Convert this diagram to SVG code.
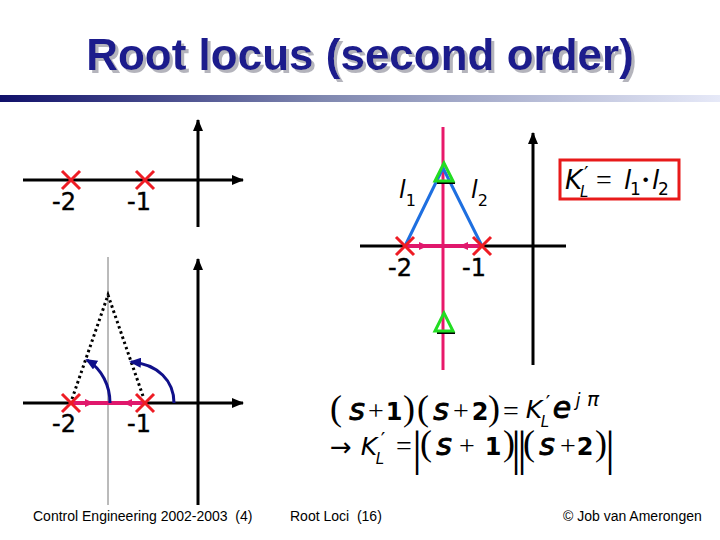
<svg xmlns="http://www.w3.org/2000/svg" width="720" height="540" viewBox="0 0 720 540">
<defs>
<linearGradient id="bar" x1="0" y1="0" x2="1" y2="0">
<stop offset="0" stop-color="#10106a"/>
<stop offset="0.45" stop-color="#8088b0"/>
<stop offset="1" stop-color="#e6e9f8"/>
</linearGradient>
<filter id="shadow" x="-5%" y="-20%" width="110%" height="140%">
<feOffset in="SourceAlpha" dx="2.5" dy="2.5" result="off"/>
<feFlood flood-color="#b4b4bc"/>
<feComposite in2="off" operator="in" result="sh"/>
<feMerge><feMergeNode in="sh"/><feMergeNode in="SourceGraphic"/></feMerge>
</filter>
<marker id="ak" viewBox="0 0 12 10" refX="11" refY="5" markerWidth="12" markerHeight="10" markerUnits="userSpaceOnUse" orient="auto">
<path d="M0,0 L12,5 L0,10 z" fill="#000"/>
</marker>
<marker id="ap" viewBox="0 0 9 8" refX="8" refY="4" markerWidth="9" markerHeight="8" markerUnits="userSpaceOnUse" orient="auto">
<path d="M0,0 L9,4 L0,8 z" fill="#e0186c"/>
</marker>
<marker id="an" viewBox="0 0 12 10" refX="10" refY="5" markerWidth="12" markerHeight="10" markerUnits="userSpaceOnUse" orient="auto">
<path d="M0,0 L12,5 L0,10 z" fill="#10108a"/>
</marker>
</defs>
<style>
.axis{stroke:#000;stroke-width:3;fill:none}
.cross{stroke:#ee1c24;stroke-width:3;fill:none}
.pink{stroke:#e0186c;stroke-width:4;fill:none}
.pinkv{stroke:#e8186a;stroke-width:3;fill:none}
.navy{stroke:#10108a;stroke-width:3;fill:none}
.blue{stroke:#1e6fe0;stroke-width:3;fill:none}
.dot{stroke:#000;stroke-width:3;fill:none;stroke-dasharray:2.5 3}
.num{font-family:"DejaVu Sans",Verdana,sans-serif;font-size:24px;fill:#000;stroke:#000;stroke-width:0.4}
.lab{font-family:"DejaVu Sans",sans-serif;font-style:italic;fill:#000}
.foot{font-family:"Liberation Sans",Arial,sans-serif;font-size:14px;fill:#000;white-space:pre}
.eq{font-family:"Liberation Serif",serif;font-size:26px;fill:#000;text-anchor:middle}
.s{font-family:"DejaVu Sans",sans-serif;font-style:italic;font-size:30px;stroke:#000;stroke-width:0.9}
.d{font-family:"DejaVu Sans",sans-serif;font-weight:bold;font-size:24px}
.op{font-family:"Liberation Serif",serif;font-size:28px}
.par{font-family:"Liberation Serif",serif;font-size:36px}
.bar{font-family:"Liberation Serif",serif;font-size:48px}
.it{font-family:"DejaVu Sans",sans-serif;font-style:italic}
.pr{font-family:"DejaVu Sans",sans-serif;font-style:normal}
</style>
<rect width="720" height="540" fill="#fff"/>

<g id="title" filter="url(#shadow)">
<text x="360" y="70" text-anchor="middle" font-family="Liberation Sans,Arial,sans-serif" font-weight="bold" font-size="44" fill="#1a1a8c">Root locus (second order)</text>
</g>
<rect id="titlebar" x="0" y="95" width="720" height="7" fill="url(#bar)"/>

<g id="diagram-top-left">
<line class="axis" x1="23" y1="180" x2="243" y2="180" marker-end="url(#ak)"/>
<line class="axis" x1="198" y1="227" x2="198" y2="120" marker-end="url(#ak)"/>
<path class="cross" d="M62,171 L80,189 M80,171 L62,189"/>
<path class="cross" d="M136,171 L154,189 M154,171 L136,189"/>
<text class="num" x="64" y="210" text-anchor="middle">-2</text>
<text class="num" x="139" y="210" text-anchor="middle">-1</text>
</g>

<g id="diagram-bottom-left">
<line x1="108" y1="257" x2="108" y2="505" stroke="#777" stroke-width="1"/>
<line class="axis" x1="23" y1="403" x2="243" y2="403" marker-end="url(#ak)"/>
<line class="axis" x1="198" y1="505" x2="198" y2="259" marker-end="url(#ak)"/>
<path class="dot" d="M72,399 L108,295 L144,399"/>
<line class="pink" x1="71" y1="403" x2="145" y2="403"/>
<path class="pink" d="M80,403 L93,403" marker-end="url(#ap)"/>
<path class="pink" d="M136,403 L124,403" marker-end="url(#ap)"/>
<path class="navy" d="M110,403 C110,386 102,369 87,360" marker-end="url(#an)"/>
<path class="navy" d="M174,403 C174,381 158,364 131,362" marker-end="url(#an)"/>
<path class="cross" d="M62,394 L80,412 M80,394 L62,412"/>
<path class="cross" d="M136,394 L154,412 M154,394 L136,412"/>
<text class="num" x="64" y="432" text-anchor="middle">-2</text>
<text class="num" x="139" y="432" text-anchor="middle">-1</text>
</g>

<g id="diagram-right">
<line class="axis" x1="360" y1="246" x2="566" y2="246"/>
<line class="axis" x1="533" y1="365" x2="533" y2="133" marker-end="url(#ak)"/>
<line class="pinkv" x1="443" y1="127" x2="443" y2="370"/>
<line class="pink" x1="405" y1="246" x2="482" y2="246"/>
<path class="pink" d="M414,246 L427,246" marker-end="url(#ap)"/>
<path class="pink" d="M473,246 L460,246" marker-end="url(#ap)"/>
<path class="blue" d="M405,246 L443,168 L482,246"/>
<path class="cross" d="M396,237 L414,255 M414,237 L396,255"/>
<path class="cross" d="M473,237 L491,255 M491,237 L473,255"/>
<g id="pole-upper">
<line x1="437" y1="183" x2="455" y2="183" stroke="#000" stroke-width="2"/>
<path d="M444,163 L435,181 L453,181 z" fill="none" stroke="#22dd22" stroke-width="3"/>
</g>
<g id="pole-lower">
<line x1="437" y1="333" x2="455" y2="333" stroke="#000" stroke-width="2"/>
<path d="M444,313 L435,331 L453,331 z" fill="none" stroke="#22dd22" stroke-width="3"/>
</g>
<text class="lab" x="399" y="198" font-size="24">l<tspan font-size="16" font-style="normal" dy="8">1</tspan></text>
<text class="lab" x="471" y="198" font-size="24">l<tspan font-size="16" font-style="normal" dy="8">2</tspan></text>
<text class="num" x="400" y="276" text-anchor="middle">-2</text>
<text class="num" x="474" y="276" text-anchor="middle">-1</text>
</g>

<g id="gain-box">
<rect x="560" y="160" width="119" height="39" fill="none" stroke="#e81a1a" stroke-width="3"/>
<text class="it" font-size="26" y="189"><tspan x="565">K</tspan><tspan class="pr" x="584" y="180" font-size="20">′</tspan><tspan x="580" y="197" font-size="15">L</tspan><tspan class="op" x="596" y="189" font-style="normal">=</tspan><tspan x="624">l</tspan><tspan x="630" y="195" font-size="17" font-style="normal">1</tspan><tspan class="op" x="641" y="189" font-style="normal" font-weight="bold">·</tspan><tspan x="652">l</tspan><tspan x="658" y="195" font-size="17" font-style="normal">2</tspan></text>
</g>

<g id="equation-1">
<text class="eq" y="420"><tspan class="par" x="336">(</tspan><tspan class="s" x="357">s</tspan><tspan class="op" x="376">+</tspan><tspan class="d" x="394">1</tspan><tspan class="par" x="409">)</tspan><tspan class="par" x="423">(</tspan><tspan class="s" x="441">s</tspan><tspan class="op" x="461">+</tspan><tspan class="d" x="480">2</tspan><tspan class="par" x="494">)</tspan><tspan class="op" x="511">=</tspan><tspan class="it" x="534" y="418" font-size="25">K</tspan><tspan class="pr" x="548" y="409" font-size="20">′</tspan><tspan class="it" x="545" y="427" font-size="15">L</tspan><tspan class="s" x="562" y="418">e</tspan><tspan class="it" x="578" y="406" font-size="17">j</tspan><tspan class="it" x="593" y="406" font-size="20">π</tspan></text>
</g>

<g id="equation-2">
<text class="eq" y="455"><tspan x="341" y="456" font-family="DejaVu Sans,sans-serif" font-size="26">→</tspan><tspan class="it" x="369" y="455" font-size="25">K</tspan><tspan class="pr" x="383" y="446" font-size="20">′</tspan><tspan class="it" x="380" y="464" font-size="15">L</tspan><tspan class="op" x="404" y="455">=</tspan><tspan class="bar" x="417" y="465">|</tspan><tspan class="par" x="426" y="455">(</tspan><tspan class="s" x="444">s</tspan><tspan class="op" x="467">+</tspan><tspan class="d" x="493">1</tspan><tspan class="par" x="509">)</tspan><tspan class="bar" x="516" y="465">|</tspan><tspan class="bar" x="522">|</tspan><tspan class="par" x="529" y="455">(</tspan><tspan class="s" x="547">s</tspan><tspan class="op" x="568">+</tspan><tspan class="d" x="585">2</tspan><tspan class="par" x="601">)</tspan><tspan class="bar" x="610" y="465">|</tspan></text>
</g>

<g id="footer">
<text class="foot" x="33" y="521" xml:space="preserve">Control Engineering 2002-2003  (4)</text>
<text class="foot" x="290" y="521" xml:space="preserve">Root Loci  (16)</text>
<text class="foot" x="563" y="521" font-size="14.5">© Job van Amerongen</text>
</g>
</svg>
